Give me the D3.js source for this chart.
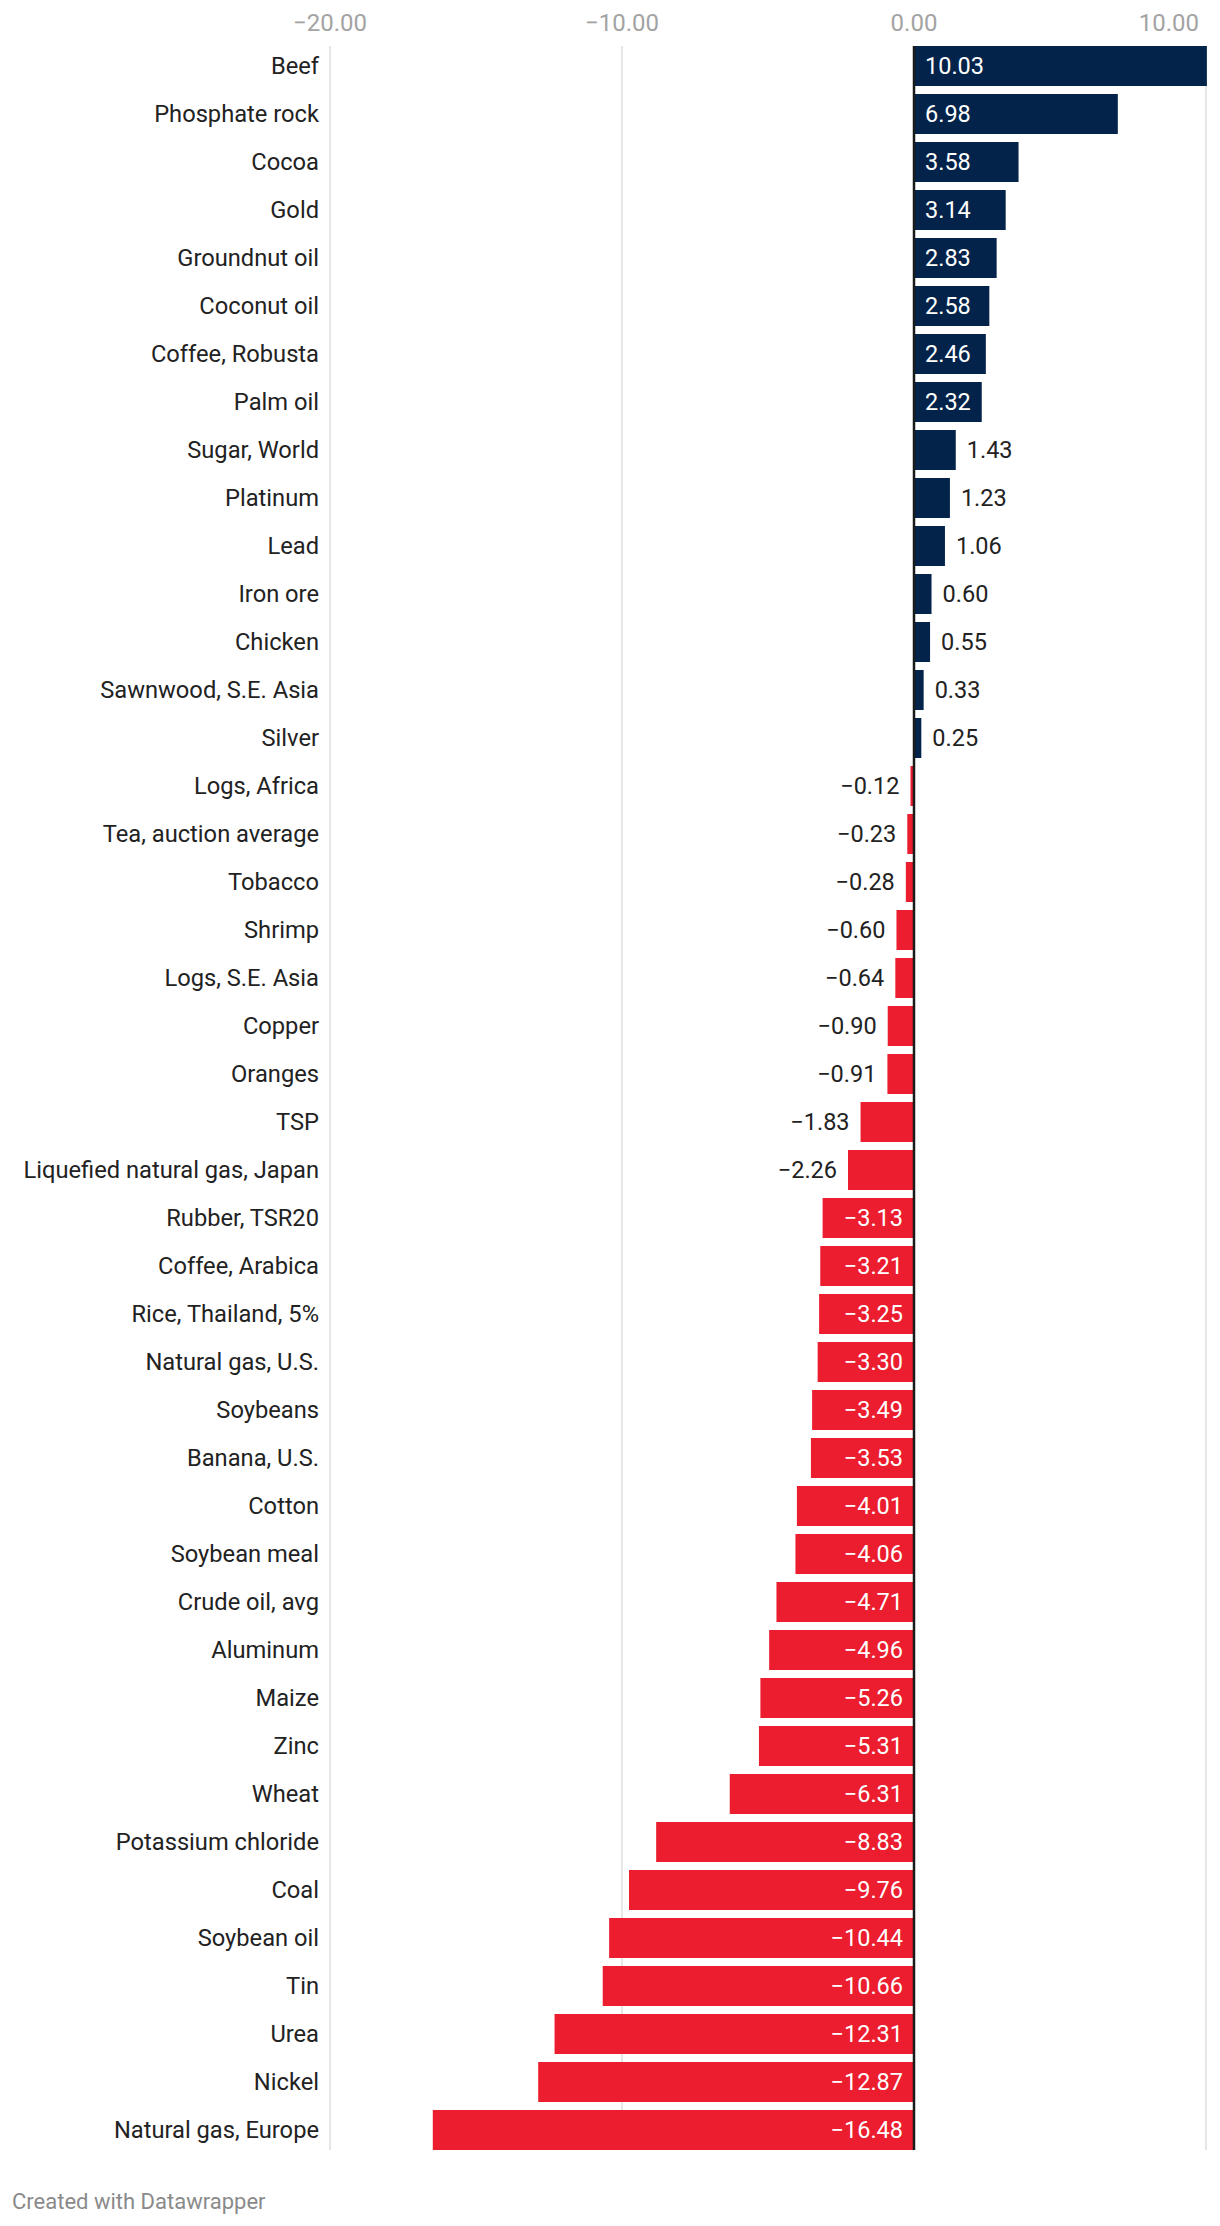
<!DOCTYPE html>
<html>
<head>
<meta charset="utf-8">
<script src="https://cdn.jsdelivr.net/npm/d3@7"></script>
<style>
html,body{margin:0;padding:0;background:#fff;}
svg{display:block;font-family:Roboto, "Noto Sans", sans-serif;}
</style>
</head>
<body>
<svg id="chart" width="1220" height="2226"></svg>
<script>
const categories = ["Beef","Phosphate rock","Cocoa","Gold","Groundnut oil","Coconut oil","Coffee, Robusta","Palm oil","Sugar, World","Platinum","Lead","Iron ore","Chicken","Sawnwood, S.E. Asia","Silver","Logs, Africa","Tea, auction average","Tobacco","Shrimp","Logs, S.E. Asia","Copper","Oranges","TSP","Liquefied natural gas, Japan","Rubber, TSR20","Coffee, Arabica","Rice, Thailand, 5%","Natural gas, U.S.","Soybeans","Banana, U.S.","Cotton","Soybean meal","Crude oil, avg","Aluminum","Maize","Zinc","Wheat","Potassium chloride","Coal","Soybean oil","Tin","Urea","Nickel","Natural gas, Europe"];
const values = [10.03,6.98,3.58,3.14,2.83,2.58,2.46,2.32,1.43,1.23,1.06,0.60,0.55,0.33,0.25,-0.12,-0.23,-0.28,-0.60,-0.64,-0.90,-0.91,-1.83,-2.26,-3.13,-3.21,-3.25,-3.30,-3.49,-3.53,-4.01,-4.06,-4.71,-4.96,-5.26,-5.31,-6.31,-8.83,-9.76,-10.44,-10.66,-12.31,-12.87,-16.48];
const tickValues = [-20,-10,0,10];
const tickLabels = ["−20.00","−10.00","0.00","10.00"];
const footerText = "Created with Datawrapper";

(function(){
const data = categories.map((c,i)=>({c, v: values[i]}));
const svg = d3.select("#chart");
const x = d3.scaleLinear().domain([-20,10]).range([330,1206]);
const y = d3.scaleBand().domain(categories).range([42, 42+44*48]).paddingInner(8/48).paddingOuter(4/48);
const yTop = y(categories[0]);
const yBottom = y(categories[categories.length-1]) + y.bandwidth();

const fmt = v => (v<0?"−":"") + Math.abs(v).toFixed(2);

// grid
svg.append("g").selectAll("line").data(tickValues.filter(t=>t!==0)).join("line")
  .attr("x1",d=>x(d)).attr("x2",d=>x(d)).attr("y1",yTop).attr("y2",yBottom)
  .attr("stroke","#e6e6e6").attr("stroke-width",2);

// tick labels
svg.append("g").selectAll("text").data(tickValues).join("text")
  .attr("x",(d,i)=> i===tickValues.length-1 ? 1199 : x(d))
  .attr("y",31)
  .attr("text-anchor",(d,i)=> i===tickValues.length-1 ? "end" : "middle")
  .attr("font-size",24).attr("fill","#a3a3a3")
  .text((d,i)=>tickLabels[i]);

// bars
svg.append("g").selectAll("rect").data(data).join("rect")
  .attr("x",d=>x(Math.min(0,d.v))).attr("y",d=>y(d.c))
  .attr("width",d=>Math.abs(x(d.v)-x(0))).attr("height",y.bandwidth())
  .attr("fill",d=>d.v>=0?"#03234a":"#eb1d2e");

// zero line
svg.append("line").attr("x1",x(0)).attr("x2",x(0)).attr("y1",yTop).attr("y2",yBottom)
  .attr("stroke","#1a1a1a").attr("stroke-width",2.5);

// category labels
svg.append("g").selectAll("text").data(data).join("text")
  .attr("x",319).attr("y",d=>y(d.c)+y.bandwidth()/2).attr("dy","0.35em")
  .attr("text-anchor","end").attr("font-size",23.7).attr("fill","#222")
  .text(d=>d.c);

// value labels
const pad = 11;
const vl = svg.append("g").selectAll("text").data(data).join("text")
  .attr("y",d=>y(d.c)+y.bandwidth()/2).attr("dy","0.35em")
  .attr("font-size",23.5)
  .text(d=>fmt(d.v));
vl.each(function(d){
  const w = this.getComputedTextLength();
  const bw = Math.abs(x(d.v)-x(0));
  const inside = w + 18 <= bw;
  const s = d3.select(this);
  if(d.v>=0){
    s.attr("x", inside ? x(0)+pad : x(d.v)+pad).attr("text-anchor","start");
  } else {
    s.attr("x", inside ? x(0)-pad : x(d.v)-pad).attr("text-anchor","end");
  }
  s.attr("fill", inside ? "#fff" : "#222");
});

// footer
svg.append("text").attr("x",12).attr("y",2209).attr("font-size",22).attr("fill","#8a8a8a").text(footerText);
})();
</script>
</body>
</html>
